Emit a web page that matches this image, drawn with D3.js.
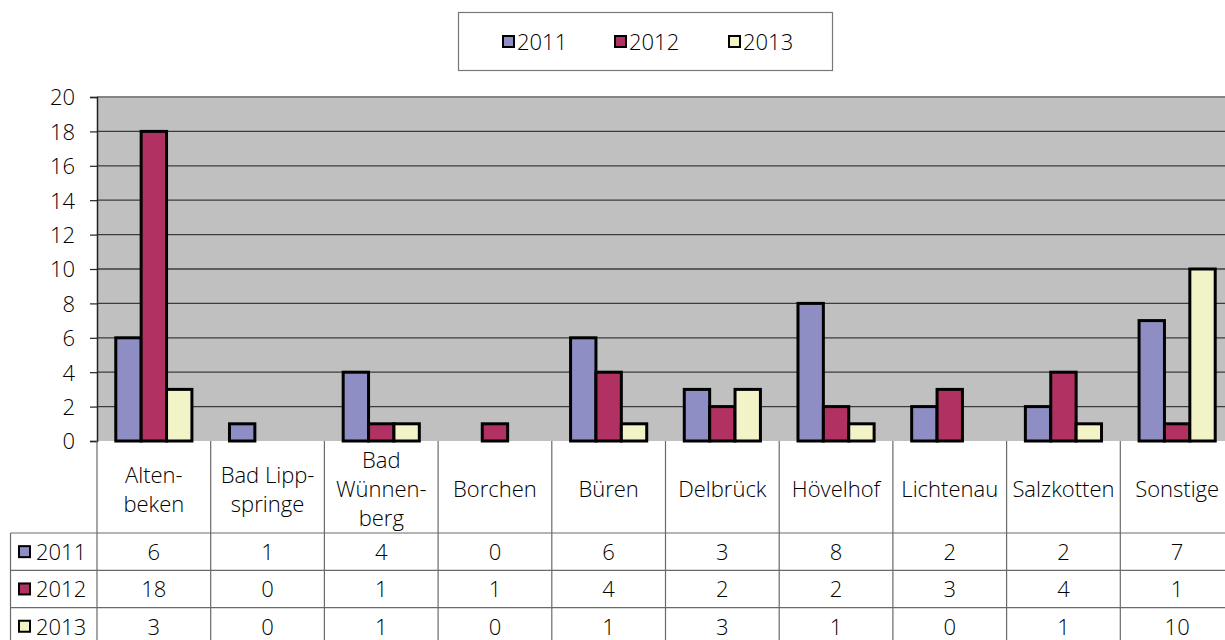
<!DOCTYPE html>
<html>
<head>
<meta charset="utf-8">
<script src="https://cdn.jsdelivr.net/npm/d3@7"></script>
<style>
  html, body { margin: 0; padding: 0; background: #fff; }
  svg { display: block; font-family: "Open Sans", "Noto Sans", sans-serif; font-weight: 300; }
</style>
</head>
<body>
<div id="chart"></div>
<script>
// data
const categories = ["Alten-\nbeken", "Bad Lipp-\nspringe", "Bad\nWünnen-\nberg", "Borchen", "Büren",
                    "Delbrück", "Hövelhof", "Lichtenau", "Salzkotten", "Sonstige"];
const seriesNames = ["2011", "2012", "2013"];
const values2011 = [6, 1, 4, 0, 6, 3, 8, 2, 2, 7];
const values2012 = [18, 0, 1, 1, 4, 2, 2, 3, 4, 1];
const values2013 = [3, 0, 1, 0, 1, 3, 1, 0, 1, 10];
const yTicks = [0, 2, 4, 6, 8, 10, 12, 14, 16, 18, 20];

const seriesValues = [values2011, values2012, values2013];
const colors = ["#8e8ec4", "#b13163", "#f3f3c8"];

const width = 1225, height = 640;
const plotLeft = 97, plotRight = 1234, plotTop = 97, plotBottom = 441;
const fontSize = 22;

let svg = d3.select("#chart").append("svg")
    .attr("width", width)
    .attr("height", height);

let x = d3.scaleBand()
    .domain(d3.range(categories.length))
    .range([plotLeft, plotRight]);

let xs = d3.scaleBand()
    .domain(d3.range(seriesNames.length))
    .range([0, x.bandwidth()])
    .paddingOuter(0.74)
    .paddingInner(0);

let y = d3.scaleLinear()
    .domain([0, 20])
    .range([plotBottom, plotTop]);

// plot area
svg.append("rect")
    .attr("x", plotLeft).attr("y", plotTop)
    .attr("width", plotRight - plotLeft).attr("height", plotBottom - plotTop)
    .attr("fill", "#c0c0c0");

// gridlines
svg.append("g")
    .selectAll("line")
    .data(yTicks.slice(1))
    .enter()
    .append("line")
    .attr("x1", plotLeft).attr("x2", plotRight)
    .attr("y1", d => y(d)).attr("y2", d => y(d))
    .attr("stroke", d => d === 20 ? "#858585" : "#3c3c3c")
    .attr("stroke-width", d => d === 20 ? 2 : 1.3);

// y axis
let yAxis = d3.axisLeft(y)
    .tickValues(yTicks)
    .tickSize(7)
    .tickPadding(15);
let ya = svg.append("g")
    .attr("transform", "translate(" + plotLeft + ",0)")
    .call(yAxis);
ya.select(".domain").attr("stroke", "#222").attr("stroke-width", 1.5);
ya.selectAll(".tick line").attr("stroke", "#222").attr("stroke-width", 1.2);
ya.selectAll(".tick text")
    .attr("fill", "#000")
    .attr("dy", "0.36em")
    .style("font-size", fontSize + "px")
    .style("font-family", "'Open Sans', sans-serif")
    .style("font-weight", 300);

// bars
let barData = [];
seriesValues.forEach((vals, si) => {
  vals.forEach((v, ci) => { if (v > 0) barData.push({v: v, ci: ci, si: si}); });
});

svg.append("g")
    .selectAll("rect")
    .data(barData)
    .enter()
    .append("rect")
    .attr("x", d => x(d.ci) + xs(d.si))
    .attr("width", xs.bandwidth())
    .attr("y", d => y(d.v))
    .attr("height", d => y(0) - y(d.v))
    .attr("fill", d => colors[d.si])
    .attr("stroke", "#000")
    .attr("stroke-width", 3);

// data table
const tableLeft = 10.5, rowTop = 533, rowH = 37.3;
const lineColor = "#6a6a6a";
let table = svg.append("g").attr("stroke", lineColor).attr("stroke-width", 1.2);

[0, 1, 2].forEach(r => {
  table.append("line")
    .attr("x1", tableLeft).attr("x2", plotRight)
    .attr("y1", rowTop + r * rowH).attr("y2", rowTop + r * rowH);
});
table.append("line")
    .attr("x1", tableLeft).attr("x2", tableLeft)
    .attr("y1", rowTop).attr("y2", height);
table.selectAll(".vl")
    .data(d3.range(categories.length + 1))
    .enter()
    .append("line")
    .attr("x1", d => d < categories.length ? x(d) : plotRight)
    .attr("x2", d => d < categories.length ? x(d) : plotRight)
    .attr("y1", plotBottom).attr("y2", height);

// category labels
let catLabels = svg.append("g")
    .selectAll("text")
    .data(categories)
    .enter()
    .append("text")
    .attr("text-anchor", "middle")
    .attr("font-size", fontSize)
    .attr("fill", "#000");
catLabels.each(function(d, i) {
  let lines = d.split("\n");
  let lh = 29;
  let y0 = 489 - (lines.length - 1) * lh / 2;
  d3.select(this).selectAll("tspan")
    .data(lines)
    .enter()
    .append("tspan")
    .attr("x", x(i) + x.bandwidth() / 2)
    .attr("y", (t, k) => y0 + k * lh + 8)
    .text(t => t);
});

// value rows
seriesNames.forEach((name, si) => {
  let cy = rowTop + si * rowH + rowH / 2;
  svg.append("rect")
    .attr("x", 19).attr("y", cy - 5.5)
    .attr("width", 11).attr("height", 11)
    .attr("fill", colors[si])
    .attr("stroke", "#000").attr("stroke-width", 2);
  svg.append("text")
    .attr("x", 36).attr("y", cy + 8.5)
    .attr("font-size", fontSize)
    .text(name);
  svg.append("g")
    .selectAll("text")
    .data(seriesValues[si])
    .enter()
    .append("text")
    .attr("x", (d, i) => x(i) + x.bandwidth() / 2)
    .attr("y", cy + 8.5)
    .attr("text-anchor", "middle")
    .attr("font-size", fontSize)
    .text(d => d);
});

// legend
let legend = svg.append("g");
legend.append("rect")
    .attr("x", 458.5).attr("y", 12.5)
    .attr("width", 374).attr("height", 58)
    .attr("fill", "#fff")
    .attr("stroke", "#777").attr("stroke-width", 1.2);
const legendX = [503, 615, 729];
seriesNames.forEach((name, si) => {
  legend.append("rect")
    .attr("x", legendX[si]).attr("y", 36)
    .attr("width", 11).attr("height", 11)
    .attr("fill", colors[si])
    .attr("stroke", "#000").attr("stroke-width", 2);
  legend.append("text")
    .attr("x", legendX[si] + 14).attr("y", 50)
    .attr("font-size", fontSize)
    .text(name);
});
</script>
</body>
</html>
